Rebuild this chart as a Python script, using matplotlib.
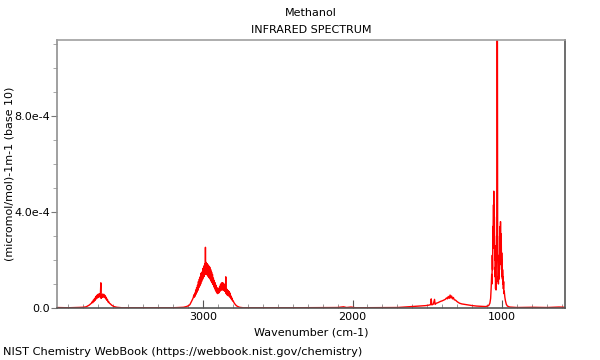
import matplotlib
matplotlib.use("Agg")
import matplotlib.pyplot as plt
from matplotlib.ticker import FixedLocator, MultipleLocator, FuncFormatter

# (wavenumber cm-1, absorbance in units of 1e-4), band by band
baseline = [
    (3975, 0.02), (3900, 0.01), (3850, 0.02), (3800, 0.03), (3780, 0.05),
    (3575, 0.03), (3540, 0.01), (3400, 0.01), (3200, 0.01), (3130, 0.03),
    (2755, 0.03), (2730, 0.01), (2400, 0.01), (2100, 0.02), (2060, 0.05),
    (2040, 0.02), (2010, 0.04), (1980, 0.01), (1700, 0.02), (1650, 0.04),
    (950, 0.04), (900, 0.02), (800, 0.03), (700, 0.02), (620, 0.04), (580, 0.03),
]
oh_band = [
    (3760, 0.12), (3752, 0.16), (3745, 0.2), (3740, 0.26), (3736, 0.22),
    (3732, 0.33), (3728, 0.27), (3724, 0.4), (3720, 0.32), (3716, 0.48),
    (3712, 0.38), (3708, 0.53), (3704, 0.42), (3700, 0.57), (3696, 0.45),
    (3692, 0.6), (3688, 0.47), (3685, 0.55), (3682, 1.05), (3680, 0.4),
    (3677, 0.55), (3674, 0.44), (3670, 0.58), (3666, 0.46), (3662, 0.57),
    (3658, 0.44), (3654, 0.52), (3650, 0.38), (3646, 0.45), (3642, 0.32),
    (3638, 0.36), (3634, 0.25), (3630, 0.27), (3625, 0.2), (3620, 0.18),
    (3610, 0.12), (3595, 0.06),
]
ch_band = [
    (3110, 0.06), (3095, 0.1), (3087, 0.14), (3078, 0.25), (3070, 0.35),
    (3065, 0.42), (3060, 0.55), (3057, 0.45), (3054, 0.62), (3051, 0.5),
    (3048, 0.75), (3045, 0.58), (3042, 0.85), (3039, 0.66), (3036, 0.95),
    (3033, 0.74), (3030, 1.1), (3027, 0.85), (3024, 1.2), (3021, 0.92),
    (3018, 1.3), (3015, 1.0), (3012, 1.45), (3009, 1.1), (3006, 1.5),
    (3003, 1.18), (3000, 1.65), (2997, 1.25), (2994, 1.75), (2991, 1.32),
    (2988, 1.85), (2985, 1.4), (2983, 2.53), (2981, 1.4), (2978, 1.9),
    (2975, 1.42), (2972, 1.85), (2969, 1.35), (2966, 1.8), (2963, 1.3),
    (2960, 1.75), (2957, 1.25), (2954, 1.7), (2951, 1.2), (2948, 1.6),
    (2945, 1.12), (2942, 1.5), (2939, 1.05), (2936, 1.4), (2933, 0.98),
    (2930, 1.25), (2927, 0.88), (2924, 1.15), (2921, 0.8), (2918, 1.05),
    (2915, 0.72), (2912, 0.95), (2909, 0.66), (2906, 0.85), (2903, 0.6),
    (2900, 0.8), (2897, 0.62), (2894, 0.82), (2891, 0.64), (2888, 0.9),
    (2885, 0.7), (2882, 0.98), (2879, 0.74), (2876, 1.04), (2873, 0.76),
    (2870, 1.05), (2867, 0.75), (2864, 1.04), (2861, 0.74), (2858, 1.0),
    (2855, 0.7), (2852, 0.95), (2849, 0.68), (2847, 1.3), (2845, 0.6),
    (2842, 0.8), (2839, 0.55), (2836, 0.75), (2833, 0.52), (2830, 0.72),
    (2827, 0.5), (2824, 0.68), (2821, 0.46), (2818, 0.62), (2815, 0.42),
    (2812, 0.5), (2809, 0.36), (2806, 0.42), (2803, 0.3), (2800, 0.32),
    (2795, 0.26), (2790, 0.2), (2780, 0.12), (2770, 0.07),
]
mid_band = [
    (1600, 0.06), (1550, 0.08), (1510, 0.1), (1490, 0.12), (1478, 0.14),
    (1474, 0.38), (1470, 0.13), (1460, 0.16), (1452, 0.36), (1448, 0.15),
    (1440, 0.2), (1430, 0.22), (1420, 0.25), (1410, 0.28), (1400, 0.3),
    (1390, 0.33), (1380, 0.36), (1372, 0.42), (1366, 0.38), (1360, 0.48),
    (1354, 0.4), (1348, 0.54), (1343, 0.42), (1338, 0.5), (1332, 0.38),
    (1326, 0.44), (1320, 0.34), (1312, 0.33), (1300, 0.26), (1285, 0.2),
    (1270, 0.17), (1250, 0.15), (1230, 0.13), (1200, 0.1), (1170, 0.08),
    (1140, 0.07), (1110, 0.06),
]
co_band = [
    (1090, 0.1), (1082, 0.2), (1077, 0.4), (1073, 0.9), (1070, 1.4),
    (1068, 1.0), (1066, 2.2), (1064, 1.6), (1062, 3.4), (1060, 2.5),
    (1058, 4.3), (1057, 3.0), (1056, 4.87), (1055, 3.0), (1054, 4.3),
    (1053, 2.5), (1052, 3.8), (1050, 2.0), (1049, 2.6), (1047, 1.3),
    (1046, 1.7), (1044, 0.8), (1043, 1.1), (1041, 0.75), (1040, 1.3),
    (1038, 2.0), (1037, 3.0), (1036, 2.4), (1035, 6.0), (1034, 14.0),
    (1033, 20.0), (1032, 14.0), (1031, 5.0), (1030, 2.2), (1029, 1.8),
    (1028, 1.1), (1026, 1.3), (1025, 1.0), (1023, 1.6), (1022, 1.2),
    (1020, 2.2), (1019, 1.5), (1017, 3.0), (1016, 2.0), (1015, 3.2),
    (1014, 2.2), (1013, 3.4), (1012, 2.3), (1011, 3.6), (1010, 2.2),
    (1009, 3.1), (1007, 1.8), (1006, 2.9), (1004, 1.6), (1003, 2.3),
    (1001, 1.3), (1000, 2.0), (998, 1.2), (997, 1.6), (995, 1.0),
    (994, 1.3), (992, 0.8), (990, 1.1), (988, 0.6), (986, 0.7),
    (982, 0.45), (978, 0.3), (972, 0.15), (965, 0.08),
]
yticks = [0.0, 4.0e-4, 8.0e-4]
ytick_labels = ["0.0", "4.0e-4", "8.0e-4"]
xticks = [3000, 2000, 1000]

points = sorted(baseline + oh_band + ch_band + mid_band + co_band, reverse=True)
wavenumber = [p[0] for p in points]
absorbance = [p[1] * 1e-4 for p in points]

plt.rcParams["font.family"] = "DejaVu Sans"
plt.rcParams["font.size"] = 8

fig = plt.figure(figsize=(6, 3.6), dpi=100)
ax = fig.add_axes([57 / 600, 1 - 308 / 360, 508 / 600, 268 / 360])

ax.plot(wavenumber, absorbance, color="red", lw=1.0)

ax.set_xlim(3975, 580)
ax.set_ylim(0, 1.117e-3)

ax.xaxis.set_major_locator(FixedLocator(xticks))
ax.xaxis.set_minor_locator(MultipleLocator(100))
ax.yaxis.set_major_locator(FixedLocator(yticks))
ax.yaxis.set_minor_locator(MultipleLocator(1e-4))
ax.yaxis.set_major_formatter(FuncFormatter(
    lambda v, p: ytick_labels[yticks.index(v)] if v in yticks else ""))

ax.tick_params(axis="x", which="major", direction="in", length=6,
               color="#555555", pad=3)
ax.tick_params(axis="x", which="minor", direction="in", length=3,
               color="#888888")
ax.tick_params(axis="y", which="major", direction="out", length=4,
               color="#777777", pad=1)
ax.tick_params(axis="y", which="minor", direction="out", length=3,
               color="#999999")

ax.spines["top"].set_color("#a0a0a0")
ax.spines["left"].set_color("#909090")
ax.spines["right"].set_color("#555555")
ax.spines["bottom"].set_color("#555555")
for s in ax.spines.values():
    s.set_linewidth(1.2)

ax.set_xlabel("Wavenumber (cm-1)", labelpad=4)
fig.text(10 / 600, 1 - 174 / 360, "(micromol/mol)-1m-1 (base 10)",
         rotation=90, ha="center", va="center")

fig.text(311 / 600, 1 - 13 / 360, "Methanol", ha="center", va="center")
fig.text(311 / 600, 1 - 30 / 360, "INFRARED SPECTRUM", ha="center", va="center")
fig.text(3 / 600, 1 - 352 / 360,
         "NIST Chemistry WebBook (https://webbook.nist.gov/chemistry)",
         ha="left", va="center", fontsize=8.2)

fig.savefig("out.png", dpi=100)
